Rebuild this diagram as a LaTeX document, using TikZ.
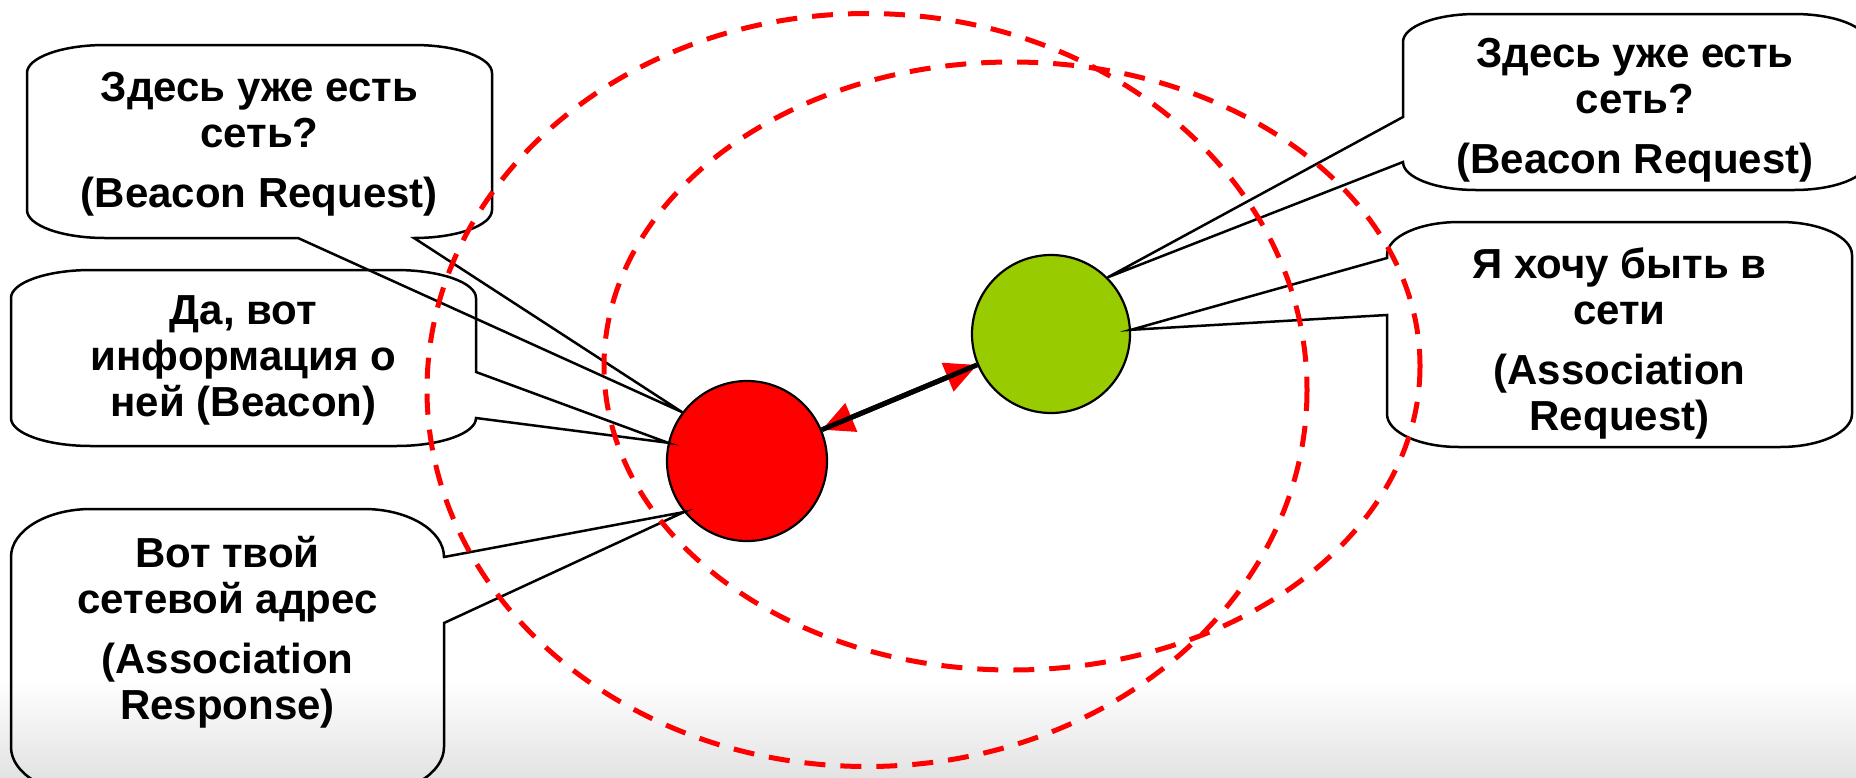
\documentclass[tikz,border=0pt]{standalone}
\usepackage{fontspec}
\setmainfont{Liberation Sans}
\usetikzlibrary{arrows.meta}
\definecolor{netred}{HTML}{FF0000}
\definecolor{netgreen}{HTML}{99CC00}
\tikzset{
  bubble/.style={draw=black, line width=2.5pt},
  says/.style={font=\fontsize{42}{46}\selectfont\bfseries, align=center, inner sep=0pt},
  radiorange/.style={draw=netred, line width=5pt, dash pattern=on 21pt off 15pt},
  station/.style={circle, draw=black, line width=2.2pt, inner sep=0pt}
}

\begin{document}
\begin{tikzpicture}[x=1pt, y=-1pt]
\useasboundingbox (0,0) rectangle (1856,777);
\shade[top color=white, bottom color=black!11] (0,680) rectangle (1856,777);

% stations
\node[station, fill=netred, minimum size=160pt] (coord) at (747,461) {};
\node[station, fill=netgreen, minimum size=158pt] (dev) at (1051,334) {};

% link between them
\draw[line width=5pt, {Triangle[length=32pt 0 0, width=30pt 0 0, color=netred]}-{Triangle[length=32pt 0 0, width=30pt 0 0, color=netred]}] (coord) -- (dev);
\draw[line width=5pt] (coord) -- (dev);

% callout texts
\node[says] (beaconreq) at (259.5,144) {Здесь уже есть\\сеть?\\[14pt](Beacon Request)};
\node[says] (beacon) at (243.5,360) {Да, вот\\информация о\\ней (Beacon)};
\node[says] (assocresp) at (227.5,632) {Вот твой\\сетевой адрес\\[14pt](Association\\Response)};
\node[says] (devreq) at (1635,110) {Здесь уже есть\\сеть?\\[14pt](Beacon Request)};
\node[says] (assocreq) at (1619.5,343) {Я хочу быть в\\сети\\[14pt](Association\\Request)};

% callout outlines
\draw[bubble] (105,45) -- (414,45) arc[start angle=270, end angle=360, x radius=78, y radius=28]
  -- (492,210) arc[start angle=0, end angle=90, x radius=78, y radius=28]
  -- (coord.143) -- (298,238)
  -- (105,238) arc[start angle=90, end angle=180, x radius=78, y radius=28]
  -- (27,73) arc[start angle=180, end angle=270, x radius=78, y radius=28] -- cycle;
\draw[bubble] (91,270) -- (396,270) arc[start angle=270, end angle=360, x radius=80, y radius=28]
  -- (476,372) -- (coord.167) -- (476,418)
  arc[start angle=0, end angle=90, x radius=80, y radius=28]
  -- (91,446) arc[start angle=90, end angle=180, x radius=80, y radius=28]
  -- (11,298) arc[start angle=180, end angle=270, x radius=80, y radius=28] -- cycle;
\draw[bubble] (91,509) -- (364,509) arc[start angle=270, end angle=360, x radius=80, y radius=48]
  -- (coord.219) -- (444,623)
  -- (444,747) arc[start angle=0, end angle=90, x radius=80, y radius=48]
  -- (91,795) arc[start angle=90, end angle=180, x radius=80, y radius=48]
  -- (11,557) arc[start angle=180, end angle=270, x radius=80, y radius=48] -- cycle;
\draw[bubble] (1476,14) -- (1794,14) arc[start angle=270, end angle=360, x radius=73, y radius=28]
  -- (1867,162) arc[start angle=0, end angle=90, x radius=73, y radius=28]
  -- (1476,190) arc[start angle=90, end angle=180, x radius=73, y radius=28]
  -- (dev.45) -- (1403,117)
  -- (1403,42) arc[start angle=180, end angle=270, x radius=73, y radius=28] -- cycle;
\draw[bubble] (1459,222) -- (1780,222) arc[start angle=270, end angle=360, x radius=72, y radius=33]
  -- (1852,414) arc[start angle=0, end angle=90, x radius=72, y radius=33]
  -- (1459,447) arc[start angle=90, end angle=180, x radius=72, y radius=33]
  -- (1387,315) -- (dev.3) -- (1387,258)
  -- (1387,255) arc[start angle=180, end angle=270, x radius=72, y radius=33] -- cycle;

% ranges
\draw[radiorange] (867,390) ellipse[x radius=440, y radius=376.5];
\draw[radiorange] (1012,366) ellipse[x radius=408, y radius=304];
\end{tikzpicture}
\end{document}
